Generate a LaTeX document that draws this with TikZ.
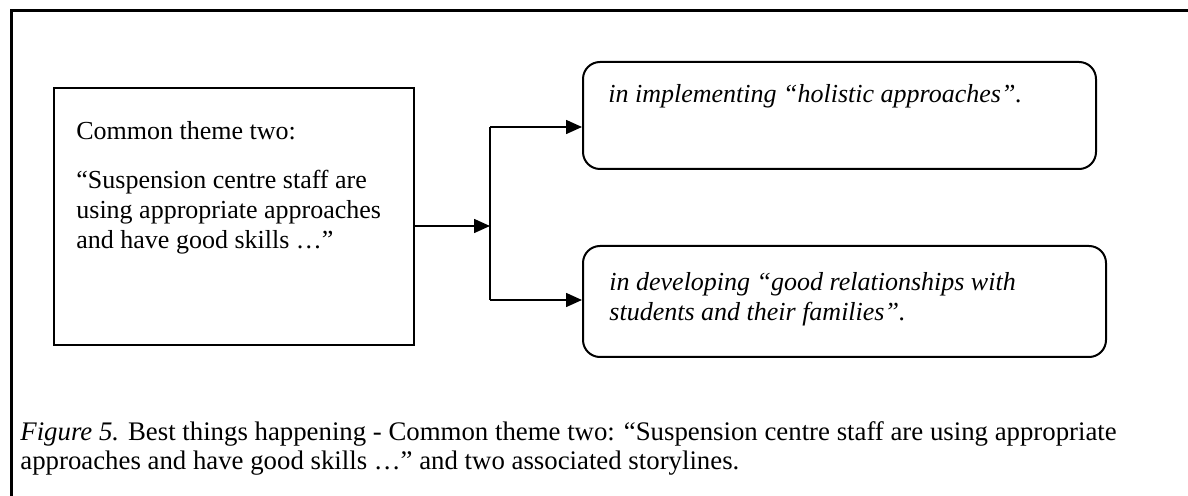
\documentclass[tikz,border=0pt]{standalone}
\usepackage{fontspec}
\setmainfont{Liberation Serif}
\usetikzlibrary{arrows.meta}

\begin{document}
\begin{tikzpicture}[x=0.5pt, y=-0.5pt,
    box/.style={draw, line width=1pt, inner sep=0pt},
    story/.style={box, rounded corners=8.5pt},
    txt/.style={anchor=base west, inner sep=0pt, font=\fontsize{13}{15}\selectfont, align=left},
    arr/.style={line width=0.8pt, -{Triangle[length=8pt, width=7pt]}}]
    \useasboundingbox (0,0) rectangle (1188,496);

    % Rahmen
    \draw[line width=1.5pt] (11,496) -- (11,11) -- (1188,11);

    % Kasten mit dem Thema
    \node[box, minimum width=180pt, minimum height=128.5pt] (theme) at (234,216.5) {};
    \node[txt] (themehead) at (76,140) {Common theme two:};
    \node[txt] (themequote) at (76,249) {“Suspension centre staff are\\using appropriate approaches\\and have good skills …”};

    % Kaesten mit den Storylines
    \node[story, minimum width=256.5pt, minimum height=53.5pt] (impl) at (839.5,115.5) {};
    \node[txt] (impltext) at (608,103) {\itshape in implementing “holistic approaches”.};
    \node[story, minimum width=261.5pt, minimum height=55.5pt] (rel) at (844.5,301.5) {};
    \node[txt] (reltext) at (609,321) {\itshape in developing “good relationships with\\\itshape students and their families”.};

    % Pfeile
    \coordinate (split) at (490,226);
    \coordinate (up) at (490,127);
    \coordinate (down) at (490,300);
    \draw[arr] (theme.east |- split) -- (split);
    \draw[line width=0.8pt] (up) -- (down);
    \draw[arr] (up) -- (up -| impl.west);
    \draw[arr] (down) -- (down -| rel.west);

    % Bildunterschrift
    \node[txt, font=\fontsize{13.4}{14.5}\selectfont] (caption) at (20,469) {\textit{Figure 5.} Best things happening - Common theme two: “Suspension centre staff are using appropriate\\approaches and have good skills …” and two associated storylines.};
\end{tikzpicture}
\end{document}
